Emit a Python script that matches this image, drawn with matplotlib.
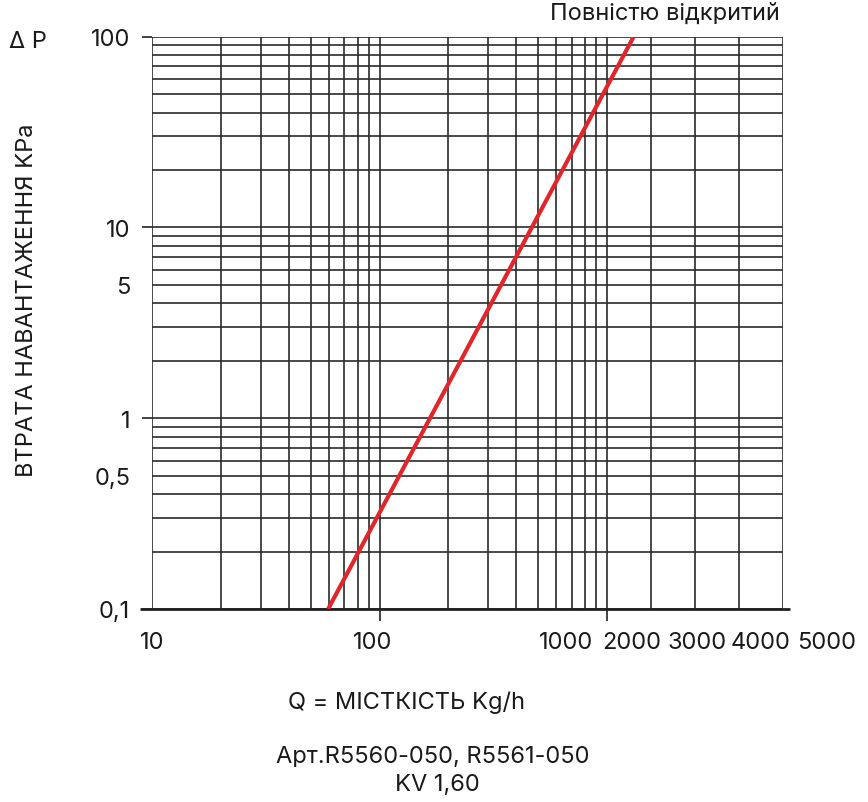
import numpy as np
import matplotlib
matplotlib.use("Agg")
import matplotlib.pyplot as plt
from matplotlib.ticker import FixedLocator

# ---- data ----
flow_kg_h = [59.4, 1610.0]
dp_kpa = [0.1, 100.0]
x_tick_labels = ["10", "100", "1000", "2000", "3000", "4000", "5000"]
y_major_ticks = [0.1, 1, 10, 100]
y_major_texts = ["0,1", "1", "10", "100"]
y_minor_ticks = [0.5, 5]
y_minor_texts = ["0,5", "5"]

# ---- layout ----
x_label_frac = [0.0, 0.350, 0.656, 0.761, 0.864, 0.965, 1.070]
K = 0.1935  # linear segment width (in decades) per 1000 kg/h above 1000


def fwd(x):
    x = np.asarray(x, dtype=float)
    xs = np.clip(x, 1e-9, None)
    return np.where(x <= 1000, np.log10(xs), 3 + (x - 1000) / 1000 * K)


def inv(y):
    y = np.asarray(y, dtype=float)
    return np.where(y <= 3, 10 ** np.minimum(y, 3), 1000 + (y - 3) / K * 1000)


plt.rcParams['font.family'] = ['Inter', 'DejaVu Sans']
FS = 17
TXT = '#1a1a1a'
GRID = '#2a2a2a'

fig = plt.figure(figsize=(8.68, 8.03), dpi=100)
ax = fig.add_axes([152.3 / 868, 1 - 610 / 803, 630.4 / 868, 572.3 / 803])
ax.set_xscale('function', functions=(fwd, inv))
ax.set_yscale('log')
ax.set_xlim(10, 5000)
ax.set_ylim(0.1, 100)

for s in ax.spines.values():
    s.set_visible(False)

# grid
xgrid = list(range(10, 100, 10)) + list(range(100, 1000, 100)) + [1000, 2000, 3000, 4000, 5000]
for v in xgrid:
    ax.axvline(v, color=GRID, lw=1.2, zorder=1)
ygrid = [a * d for d in (0.1, 1, 10) for a in range(1, 10)] + [100]
for v in ygrid:
    ax.axhline(v, color=GRID, lw=1.2, zorder=1)

# bottom axis line
ax.plot([-0.0195, 1.0116], [0, 0], transform=ax.transAxes, color='#222222',
        lw=2.0, clip_on=False, zorder=3, solid_capstyle='butt')

# curve
ax.plot(flow_kg_h, dp_kpa, color='#e0262b', lw=3.0, zorder=4, solid_capstyle='butt')

# y ticks
ax.set_yticks(y_major_ticks, y_major_texts)
ax.set_yticks(y_minor_ticks, y_minor_texts, minor=True)
ax.tick_params(axis='y', which='major', length=7.2, width=1.2, color='#222222',
               pad=8.6, labelsize=FS, labelcolor=TXT)
ax.tick_params(axis='y', which='minor', length=0, pad=15.8, labelsize=FS, labelcolor=TXT)

# x ticks
ax.set_xticks([100, 1000])
ax.set_xticklabels([])
ax.xaxis.set_minor_locator(FixedLocator([]))
ax.tick_params(axis='x', which='major', length=8.6, width=1.2, color='#222222')

for f, t in zip(x_label_frac, x_tick_labels):
    ax.text(f, -0.0577, t, transform=ax.transAxes, ha='center', va='center',
            fontsize=FS, color=TXT, clip_on=False)

# texts
fig.text(28 / 868, 1 - 42 / 803, "Δ P", ha='center', va='center', fontsize=FS, color=TXT)
fig.text(27 / 868, 1 - 300 / 803, "ВТРАТА НАВАНТАЖЕННЯ KPa", rotation=90,
         ha='center', va='center', fontsize=FS, color=TXT)
fig.text(780 / 868, 1 - 14 / 803, "Повністю відкритий", ha='right', va='center',
         fontsize=FS, color=TXT)
fig.text(407 / 868, 1 - 703 / 803, "Q = МІСТКІСТЬ Kg/h", ha='center', va='center',
         fontsize=FS, color=TXT)
fig.text(433 / 868, 1 - 757 / 803, "Арт.R5560-050, R5561-050", ha='center', va='center',
         fontsize=FS, color=TXT)
fig.text(437 / 868, 1 - 785 / 803, "KV 1,60", ha='center', va='center',
         fontsize=FS, color=TXT)

fig.savefig("out.png", dpi=100)
